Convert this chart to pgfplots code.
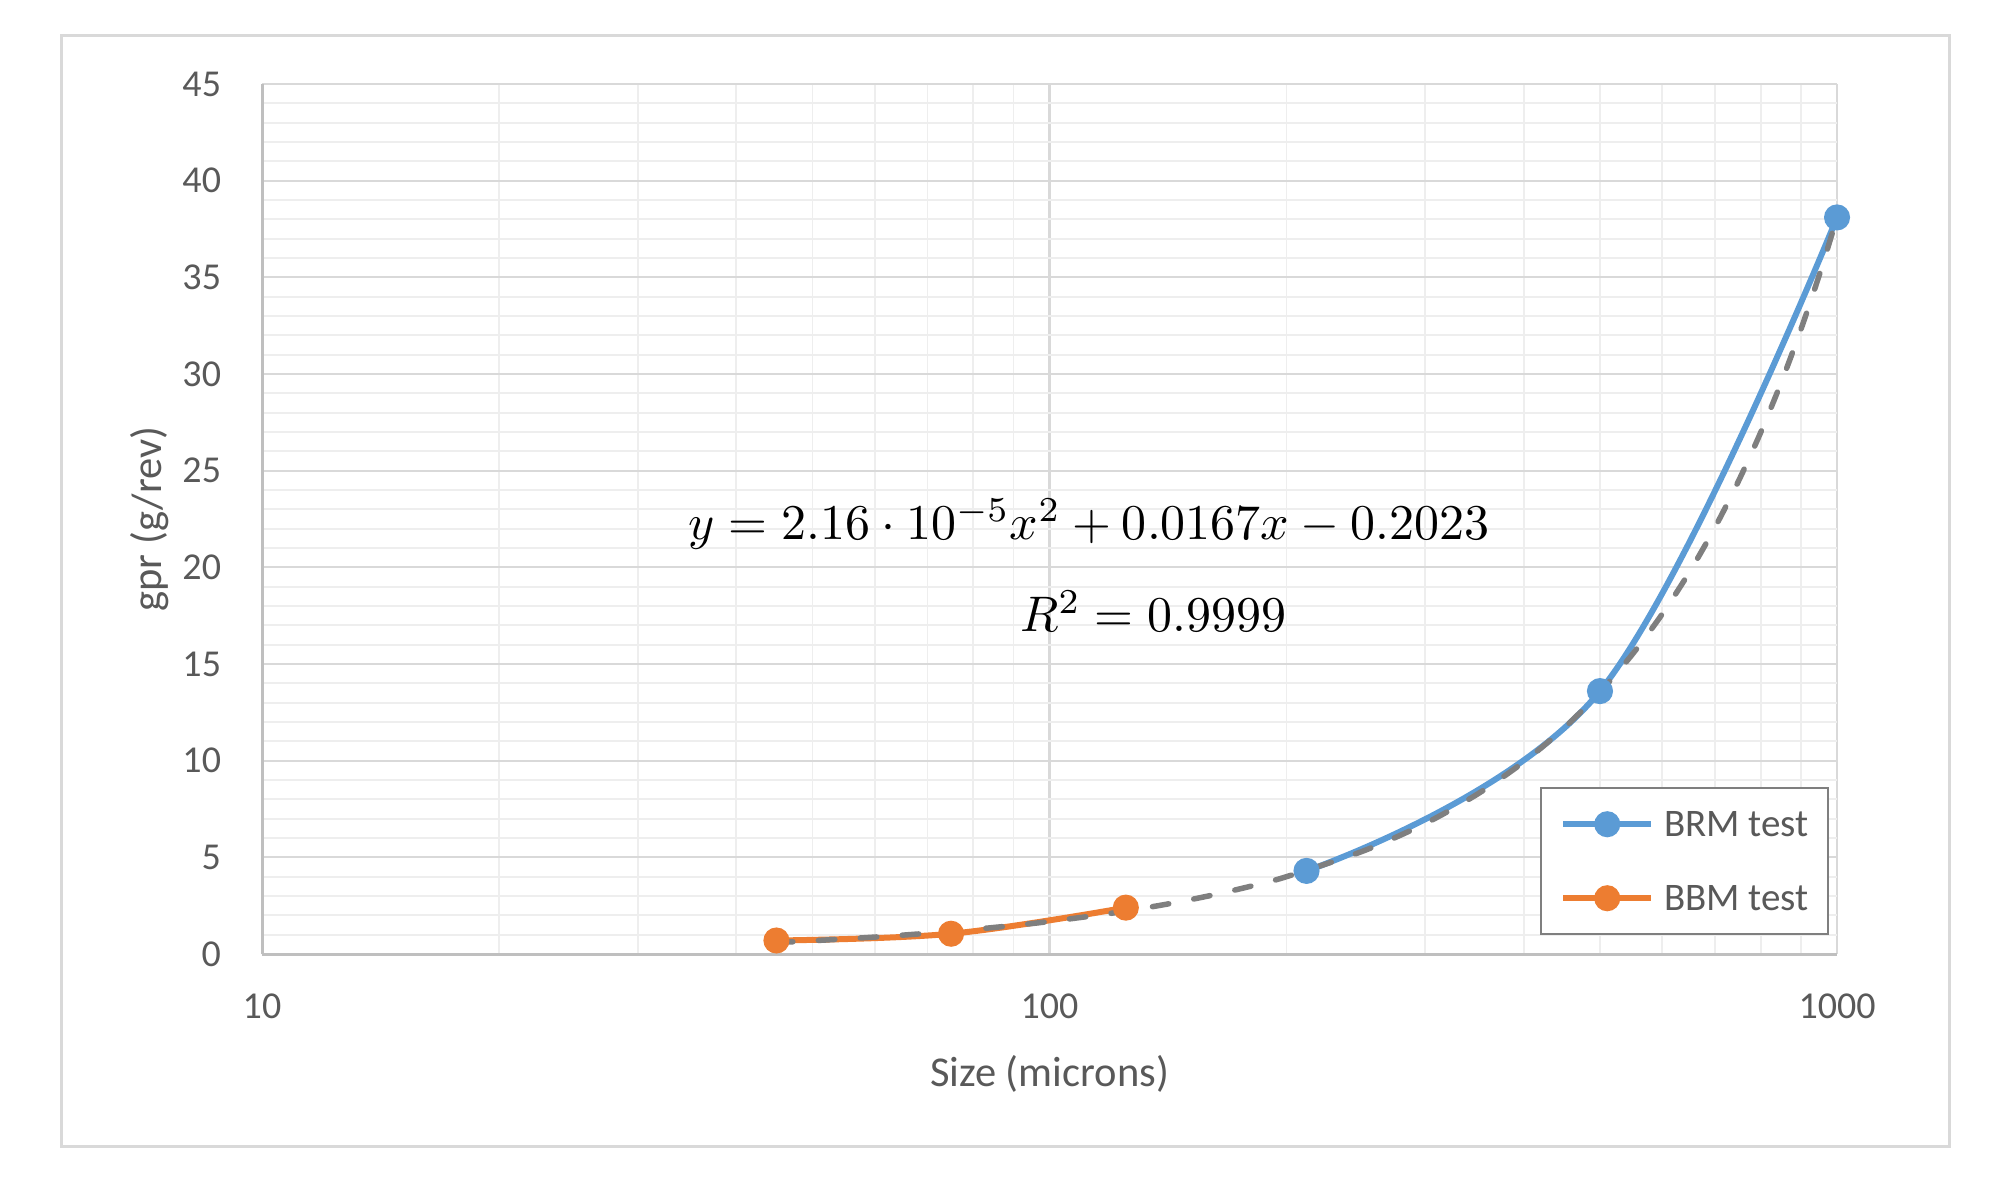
\documentclass[border=0pt]{standalone}
\usepackage{fontspec}
\setmainfont{Carlito}
\usepackage{pgfplots}
\pgfplotsset{compat=1.18}
\definecolor{bluS}{HTML}{5B9BD5}
\definecolor{oraS}{HTML}{ED7D31}
\definecolor{trendG}{HTML}{7F7F7F}
\definecolor{txtG}{HTML}{595959}
\definecolor{majG}{HTML}{D9D9D9}
\definecolor{minG}{HTML}{EEEEEE}
\definecolor{axG}{HTML}{BFBFBF}
\definecolor{legG}{HTML}{7F7F7F}

\pgfplotstableread{
x y
212 4.3
500 13.6
1000 38.1
}\brm
\pgfplotstableread{
x y
45 0.7
75 1.05
125 2.4
}\bbm
\pgfplotstableread{
x y
45 0.593
50 0.687
60 0.877
70 1.073
80 1.272
90 1.476
100 1.684
120 2.113
140 2.559
160 3.023
180 3.504
200 4.002
250 5.323
300 6.752
350 8.289
400 9.934
450 11.687
500 13.548
550 15.517
600 17.594
650 19.779
700 22.072
750 24.473
800 26.982
850 29.599
900 32.324
950 35.157
1000 38.098
}\trend

\begin{document}
\begin{tikzpicture}
\path[use as bounding box] (-52.4pt,-46pt) rectangle (345.8pt,190.8pt);
\fill[white] (-52.4pt,-46pt) rectangle (345.8pt,190.8pt);
\draw[majG, line width=0.6pt] (-40pt,-38.4pt) rectangle (337.4pt,183.8pt);
\begin{axis}[
  at={(0pt,0pt)}, anchor=south west,
  scale only axis, width=315pt, height=174pt,
  xmode=log, xmin=10, xmax=1000, ymin=0, ymax=45,
  xtick={10,100,1000}, xticklabels={10,100,1000},
  ytick={0,5,...,45}, minor y tick num=4,
  /pgf/number format/assume math mode=true,
  xmajorgrids=true, ymajorgrids=true, xminorgrids=true, yminorgrids=true,
  major grid style={majG, line width=0.45pt},
  minor grid style={minG, line width=0.35pt},
  major tick length=0pt, minor tick length=0pt,
  axis x line*=bottom, axis y line*=left,
  axis line style={axG, line width=0.6pt, -},
  every tick label/.append style={font=\fontsize{7.6}{9}\selectfont, text=txtG},
  yticklabel style={anchor=east, inner sep=0pt, xshift=-8pt},
  xticklabel style={anchor=north, inner sep=0pt, yshift=-7.8pt},
  xlabel={Size (microns)}, ylabel={gpr (g/rev)},
  label style={font=\fontsize{8.5}{10}\selectfont, text=txtG},
  xlabel style={at={(axis description cs:0.5,-0.1517)}, anchor=base},
  ylabel style={at={(axis description cs:-0.0641,0.5)}, anchor=base},
  clip=false,
  legend cell align=left,
  legend style={at={(axis description cs:0.8114,0.192)}, anchor=north west,
    draw=legG, line width=0.5pt, fill=white,
    font=\fontsize{7.8}{9}\selectfont, text=txtG,
    inner xsep=3.8pt, inner ysep=4.7pt, row sep=9.8pt,
    nodes={inner sep=0pt, text height=5pt, text depth=0pt}},
  legend image code/.code={%
    \draw[#1, mark repeat=2, mark phase=2] plot coordinates {(0pt,0pt) (8.8pt,0pt) (17.6pt,0pt)};
    \path (19.6pt,0pt);},
]
\addplot[bluS, line width=1.2pt, smooth, tension=0.6, mark=*, mark size=2pt,
  mark options={solid, fill=bluS, draw=bluS}] table[x=x, y=y] {\brm};
\addlegendentry{BRM test}
\addplot[oraS, line width=1.2pt, smooth, tension=0.6, mark=*, mark size=2pt,
  mark options={solid, fill=oraS, draw=oraS}] table[x=x, y=y] {\bbm};
\addlegendentry{BBM test}
\addplot[trendG, line width=1.1pt, smooth, line cap=round, dash pattern=on 3.3pt off 5.1pt, forget plot] table[x=x, y=y] {\trend};
\node[anchor=base, font=\fontsize{10}{12}\selectfont] at (rel axis cs:0.525,0.476) {$y = 2.16\cdot 10^{-5}x^{2} + 0.0167x - 0.2023$};
\node[anchor=base, font=\fontsize{10}{12}\selectfont] at (rel axis cs:0.566,0.371) {$R^{2} = 0.9999$};
\end{axis}
\end{tikzpicture}
\end{document}
